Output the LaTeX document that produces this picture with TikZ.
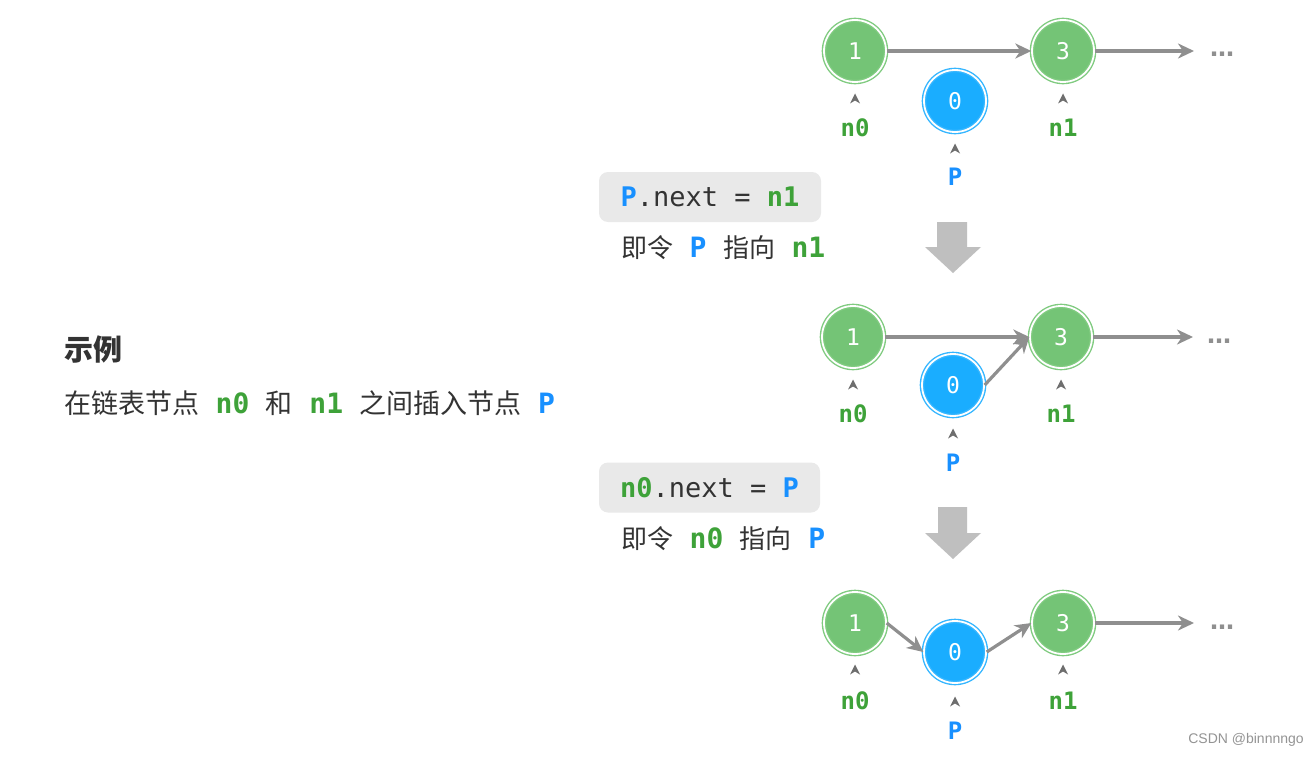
\documentclass[tikz,border=0pt]{standalone}
\usepackage{fontspec}
\setmainfont{Noto Sans CJK SC}
\newfontfamily\monof{DejaVu Sans Mono}
\newfontfamily\dotf{DejaVu Sans}
\newfontfamily\wmf{Liberation Sans}
\usetikzlibrary{arrows.meta}
\definecolor{gfill}{HTML}{74C476}
\definecolor{gring}{HTML}{80CB80}
\definecolor{bfill}{HTML}{1AADFF}
\definecolor{bring}{HTML}{35B6FF}
\definecolor{gtext}{HTML}{3EA239}
\definecolor{btext}{HTML}{1890FF}
\definecolor{linkc}{HTML}{8F8F8F}
\definecolor{ptrc}{HTML}{6E6E6E}
\definecolor{txt}{HTML}{333333}
\definecolor{boxc}{HTML}{E9E9E9}
\definecolor{bigc}{HTML}{BFBFBF}
\newcommand\codeg[1]{{\monof\bfseries\fontsize{28}{28}\selectfont\color{gtext}#1}}
\newcommand\codeb[1]{{\monof\bfseries\fontsize{28}{28}\selectfont\color{btext}#1}}
\newcommand\gapx{\hspace{16.5pt}}
\tikzset{
  listnode/.style={circle, minimum size=62pt, inner sep=0pt, line width=1.4pt,
    double=white, double distance=1.8pt, text=white,
    font=\monof\fontsize{23}{23}\selectfont},
  gnode/.style={listnode, fill=gfill, draw=gring},
  bnode/.style={listnode, fill=bfill, draw=bring},
  link/.style={draw=linkc, line width=3.2pt, -{Stealth[length=16pt,width=15pt,inset=5pt]}},
  lbl/.style={inner sep=0pt, font=\monof\bfseries\fontsize{24}{24}\selectfont},
  codebox/.style={fill=boxc, rounded corners=9pt, inner sep=0pt, text=txt,
    font=\monof\fontsize{27}{27}\selectfont},
  captxt/.style={anchor=west, inner sep=0pt, text=txt, font=\fontsize{26}{26}\selectfont},
  dotsnode/.style={inner sep=0pt, text=linkc, font=\dotf\bfseries\fontsize{24}{24}\selectfont},
  ptr/.pic={\fill[ptrc] (0,-5.5) -- (5,4.5) -- (0,1.5) -- (-5,4.5) -- cycle;},
}
\begin{document}
\begin{tikzpicture}[x=1pt, y=-1pt]
\fill[white] (0,0) rectangle (1316,757);
\useasboundingbox (0,0) rectangle (1316,757);

% left text
\node[anchor=west, inner sep=0pt, text=txt, font=\fontsize{29}{29}\selectfont\bfseries] (title) at (64,350) {示例};
\node[anchor=west, inner sep=0pt, text=txt, font=\fontsize{27}{27}\selectfont] (desc) at (64,403)
  {在链表节点\gapx\codeg{n0}\gapx 和\gapx\codeg{n1}\gapx 之间插入节点\gapx\codeb{P}};

% ---------- top row ----------
\node[gnode] (t1) at (855,51) {1};
\node[gnode] (t3) at (1063,51) {3};
\node[bnode] (t0) at (955,101) {0};
\node[dotsnode] (tdots) at (1222,54) {…};
\coordinate (te) at (1194,51);
\draw[link] (t1) -- (t3);
\draw[link] (t3) -- (te);
\pic at (855,99) {ptr};
\pic at (1063,99) {ptr};
\pic at (955,149) {ptr};
\node[lbl, text=gtext] (tn0) at (855,128) {n0};
\node[lbl, text=gtext] (tn1) at (1063,128) {n1};
\node[lbl, text=btext] (tp) at (955,177) {P};

% code box 1
\node[codebox, minimum width=222pt, minimum height=50pt] (code1) at (710,197)
  {{\monof\bfseries\color{btext}P}.next = {\monof\bfseries\color{gtext}n1}};
\node[captxt] (cap1) at (621,248) {即令\gapx\codeb{P}\gapx 指向\gapx\codeg{n1}};
\fill[bigc] (937,222) -- (967,222) -- (967,247) -- (981,247) -- (953,273) -- (925,247) -- (937,247) -- cycle;

% ---------- middle row ----------
\node[gnode] (m1) at (853,337) {1};
\node[gnode] (m3) at (1061,337) {3};
\node[bnode] (m0) at (953,385) {0};
\node[dotsnode] (mdots) at (1219,341) {…};
\coordinate (me) at (1193,337);
\draw[link] (m1) -- (m3);
\draw[link] (m0.east) -- (m3.west);
\draw[link] (m3) -- (me);
\pic at (853,385) {ptr};
\pic at (1061,385) {ptr};
\pic at (953,434) {ptr};
\node[lbl, text=gtext] (mn0) at (853,414) {n0};
\node[lbl, text=gtext] (mn1) at (1061,414) {n1};
\node[lbl, text=btext] (mp) at (953,463) {P};

% code box 2
\node[codebox, minimum width=221pt, minimum height=50pt] (code2) at (709.5,487.5)
  {{\monof\bfseries\color{gtext}n0}.next = {\monof\bfseries\color{btext}P}};
\node[captxt] (cap2) at (621,539) {即令\gapx\codeg{n0}\gapx 指向\gapx\codeb{P}};
\fill[bigc] (938,507) -- (967,507) -- (967,533) -- (981,533) -- (953,559) -- (925,533) -- (938,533) -- cycle;

% ---------- bottom row ----------
\node[gnode] (b1) at (855,623) {1};
\node[bnode] (b0) at (955,652) {0};
\node[gnode] (b3) at (1063,623) {3};
\node[dotsnode] (bdots) at (1222,627) {…};
\coordinate (be) at (1194,623);
\draw[link] (b1.east) -- (b0.west);
\draw[link] (b0.east) -- (b3.west);
\draw[link] (b3) -- (be);
\pic at (855,670) {ptr};
\pic at (1063,670) {ptr};
\pic at (955,702) {ptr};
\node[lbl, text=gtext] (bn0) at (855,701) {n0};
\node[lbl, text=gtext] (bn1) at (1063,701) {n1};
\node[lbl, text=btext] (bp) at (955,731) {P};

% watermark
\node[inner sep=0pt, text=black!42, font=\wmf\fontsize{14}{14}\selectfont] (wm) at (1246,740) {CSDN @binnnngo};
\end{tikzpicture}
\end{document}
